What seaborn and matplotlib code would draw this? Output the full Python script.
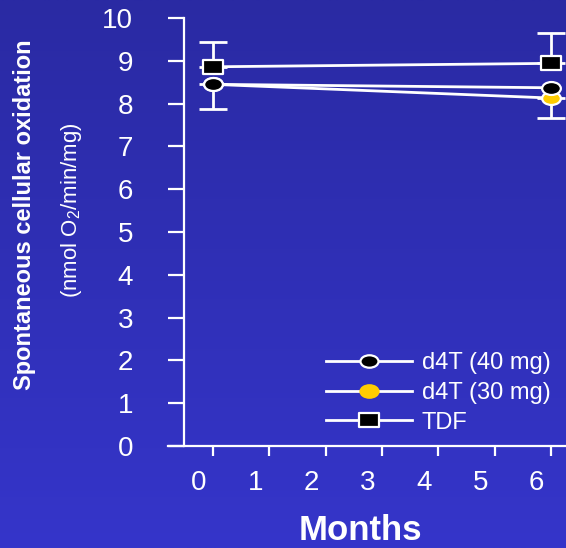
import numpy as np
import pandas as pd
import seaborn as sns
import matplotlib.pyplot as plt
from matplotlib.path import Path
from matplotlib.lines import Line2D
from matplotlib.transforms import Affine2D, ScaledTranslation
from matplotlib.colors import LinearSegmentedColormap

# Data ---------------------------------------------------------
months = [0, 6]
d4t40 = [8.45, 8.37]
d4t30 = [8.45, 8.13]
tdf = [8.86, 8.94]
tdf_err_up = [0.59, 0.70]      # upper whiskers drawn on TDF
d4t30_err_down = [0.57, 0.46]  # lower whiskers drawn on d4T (30 mg)
labels = ["d4T (40 mg)", "d4T (30 mg)", "TDF"]

plt.rcParams['font.family'] = ['Liberation Sans', 'DejaVu Sans']
plt.rcParams['mathtext.fontset'] = 'custom'
plt.rcParams['mathtext.rm'] = 'Liberation Sans'

W, H = 566, 548
fig = plt.figure(figsize=(W / 100, H / 100), dpi=100)

# blue gradient background
bg = fig.add_axes([0, 0, 1, 1], zorder=-1)
cmap = LinearSegmentedColormap.from_list('bg', ['#3535ca', '#2a2aa3'])
bg.imshow(np.linspace(0, 1, 256).reshape(-1, 1), aspect='auto', cmap=cmap,
          extent=[0, 1, 0, 1], origin='lower')
bg.axis('off')

ax = fig.add_axes([168 / W, 1 - 446 / H, 1 - 168 / W, (446 - 18) / H])
ax.set_facecolor('none')

# ellipse and flat-square markers
ellipse = Path.unit_circle().transformed(Affine2D().scale(1.45, 1.0))
square = Path.unit_rectangle().transformed(Affine2D().translate(-0.5, -0.5).scale(1.3, 1.0))

df = pd.DataFrame({"Months": months * 3,
                   "Value": d4t30 + d4t40 + tdf,
                   "Group": ["30"] * 2 + ["40"] * 2 + ["tdf"] * 2})

# error bars first so markers sit on top
ax.errorbar(months, tdf, yerr=[[0, 0], tdf_err_up], fmt='none', ecolor='white',
            elinewidth=2, capsize=10, capthick=2, zorder=2, clip_on=False)
ax.errorbar(months, d4t30, yerr=[d4t30_err_down, [0, 0]], fmt='none', ecolor='white',
            elinewidth=2, capsize=10, capthick=2, zorder=2, clip_on=False)

styles = {"30": ('#ffcc00', ellipse, 13.5), "40": ('black', ellipse, 13.5), "tdf": ('black', square, 14)}
for i, grp in enumerate(["30", "40", "tdf"]):
    fc, mk, ms = styles[grp]
    sns.lineplot(data=df[df.Group == grp], x="Months", y="Value", ax=ax, color='white',
                 lw=2, marker=mk, markersize=ms, markerfacecolor=fc, markeredgecolor='white',
                 markeredgewidth=1.6, zorder=3 + i, clip_on=False, legend=False)

ax.set_xlim(-0.8, 6.27)
ax.set_ylim(0, 10)
ax.set_xticks(range(7))
ax.set_yticks(range(11))
ax.set_xlabel("")
ax.set_ylabel("")

for s in ['top', 'right']:
    ax.spines[s].set_visible(False)
for s in ['left', 'bottom']:
    ax.spines[s].set_color('white')
    ax.spines[s].set_linewidth(1.6)
ax.spines['left'].set_position(('data', -0.515))

ax.tick_params(axis='y', colors='white', length=11.5, width=1.6, pad=25, labelsize=20)
ax.tick_params(axis='x', colors='white', length=7.5, width=1.6, pad=10, labelsize=20)
shift = ScaledTranslation(-14 / 100, 0, fig.dpi_scale_trans)
for t in ax.get_xticklabels():
    t.set_transform(t.get_transform() + shift)

fig.text(360 / W, 1 - 530 / H, "Months", color='white', fontsize=25,
         fontweight='bold', ha='center', va='center')
fig.text(25 / W, 1 - 215 / H, "Spontaneous cellular oxidation", color='white',
         fontsize=17, fontweight='bold', rotation=90, ha='center', va='center')
fig.text(72 / W, 1 - 210 / H, r"(nmol O$_\mathregular{2}$/min/mg)", color='white',
         fontsize=16, rotation=90, ha='center', va='center')

handles = [
    Line2D([], [], color='white', lw=2, marker=ellipse, markersize=13, markerfacecolor='black',
           markeredgecolor='white', markeredgewidth=1.6),
    Line2D([], [], color='white', lw=2, marker=ellipse, markersize=13, markerfacecolor='#ffcc00',
           markeredgecolor='#ffcc00', markeredgewidth=1.6),
    Line2D([], [], color='white', lw=2, marker=square, markersize=14, markerfacecolor='black',
           markeredgecolor='white', markeredgewidth=1.6),
]
ax.legend(handles, labels, loc='center left', bbox_to_anchor=(326 / W, 1 - 393 / H),
          bbox_transform=fig.transFigure, frameon=False, handlelength=3.64,
          handletextpad=0.42, labelspacing=0.32, borderpad=0, borderaxespad=0,
          fontsize=17, labelcolor='white', numpoints=1)

fig.savefig("out.png", dpi=100)
